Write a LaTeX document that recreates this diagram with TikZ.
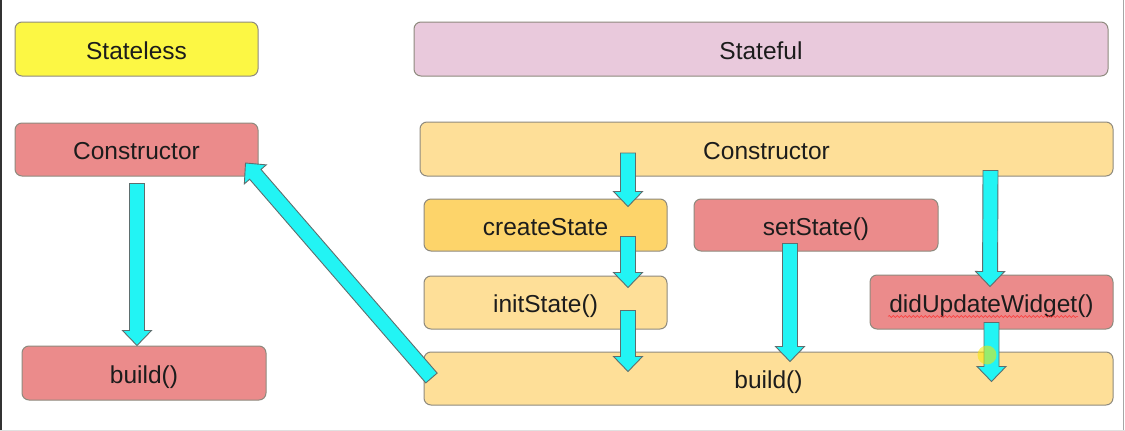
\documentclass[tikz,border=0pt]{standalone}
\usepackage{fontspec}
\setmainfont{Liberation Sans}
\usetikzlibrary{calc,decorations.pathmorphing}
\definecolor{yel}{HTML}{FCF744}
\definecolor{pinkc}{HTML}{E9C9DC}
\definecolor{redc}{HTML}{EB8B8B}
\definecolor{orl}{HTML}{FEDF98}
\definecolor{ord}{HTML}{FDD46A}
\definecolor{cyanc}{HTML}{22F4F4}
\definecolor{arrb}{HTML}{5E6E6E}
\definecolor{boxb}{HTML}{8E8A7E}
\definecolor{txt}{HTML}{1C1C1C}
\tikzset{
  box/.style={draw=boxb, line width=1pt, rounded corners=7pt, inner sep=0pt,
    text height=20.6pt, text depth=0pt,
    font=\fontsize{24.5}{29}\selectfont, text=txt},
  barrow/.style={draw=arrb, fill=cyanc, line width=0.9pt, line join=miter},
}
\newcommand\blockarr[3]{%
  \coordinate (#1h) at ($(#3)!15pt!(#2)$);
  \path[barrow] ($(#2)!7.5pt!90:(#3)$) -- ($(#1h)!7.5pt!90:(#3)$) -- ($(#1h)!14.5pt!90:(#3)$) -- (#3)
    -- ($(#1h)!14.5pt!-90:(#3)$) -- ($(#1h)!7.5pt!-90:(#3)$) -- ($(#2)!7.5pt!-90:(#3)$) -- cycle;}
\begin{document}
\begin{tikzpicture}[x=1pt,y=-1pt]
\useasboundingbox[fill=white] (0,0) rectangle (1125,431);
% frame lines
\draw[line width=2.5pt, color=black!80] (1,0) -- (1,431);
\draw[line width=1pt, color=black!35] (1123,0) -- (1123,431);
\draw[line width=0.8pt, color=black!12] (0,430.5) -- (1125,430.5);
% boxes
\node[box, fill=yel,   minimum width=243pt, minimum height=54pt] (sl)  at (136.5,49)  {Stateless};
\node[box, fill=pinkc, minimum width=694pt, minimum height=54pt] (sf)  at (761,49)    {Stateful};
\node[box, fill=redc,  minimum width=243pt, minimum height=53pt] (lc)  at (136.5,149.5) {Constructor};
\node[box, fill=redc,  minimum width=244pt, minimum height=54pt] (lb)  at (144,373)   {build()};
\node[box, fill=orl,   minimum width=693pt, minimum height=54pt] (rc)  at (766.5,149) {Constructor};
\node[box, fill=ord,   minimum width=243pt, minimum height=52pt] (cs)  at (545.5,225) {createState};
\node[box, fill=redc,  minimum width=244pt, minimum height=52pt] (ss)  at (816,225)   {setState()};
\node[box, fill=orl,   minimum width=243pt, minimum height=53pt] (is)  at (545.5,302.5) {initState()};
\node[box, fill=redc,  minimum width=243pt, minimum height=54pt] (du)  at (991.5,302) {didUpdateWidget()};
\node[box, fill=orl,   minimum width=689pt, minimum height=53pt] (rb)  at (768.5,378.5) {build()};
% spell-check underline
\coordinate (w1) at (888,316.5);
\coordinate (w2) at (1078,316.5);
\draw[red!80, line width=0.5pt, decorate, decoration={snake, amplitude=1pt, segment length=4pt}] (w1) -- (w2);
% arrow end points
\coordinate (a1s) at ($(lc.south)+(0.5,7)$);   \coordinate (a1e) at ($(lb.north)+(-7,0)$);
\coordinate (a2s) at (628,153);                \coordinate (a2e) at ($(cs.north)+(82.5,8)$);
\coordinate (a3s) at ($(cs.south)+(82.5,-15)$); \coordinate (a3e) at ($(is.north)+(82.5,12)$);
\coordinate (a4s) at ($(is.south)+(82.5,-19)$); \coordinate (a4e) at ($(rb.north)+(-140.5,20)$);
\coordinate (a5s) at ($(ss.south)+(-26,-8)$);  \coordinate (a5e) at ($(rb.north)+(21.5,10)$);
\coordinate (a6s) at ($(rc.south)+(224,-6)$);  \coordinate (a6e) at ($(du.north)+(-1.5,12)$);
\coordinate (a7s) at ($(du.south)+(0,-7)$);    \coordinate (a7e) at ($(rb.north)+(223,30)$);
\coordinate (a8s) at (431.5,378);              \coordinate (a8e) at ($(lc.south east)+(-13,-13.5)$);
% arrows
\blockarr{a1}{a1s}{a1e}
\blockarr{a2}{a2s}{a2e}
\blockarr{a3}{a3s}{a3e}
\blockarr{a4}{a4s}{a4e}
\blockarr{a5}{a5s}{a5e}
\blockarr{a6}{a6s}{a6e}
\blockarr{a7}{a7s}{a7e}
\blockarr{a8}{a8s}{a8e}
% cursor highlight
\coordinate (cur) at (987,355);
\fill[yellow!90!olive, opacity=0.55] (cur) circle (9.5);
\end{tikzpicture}
\end{document}
